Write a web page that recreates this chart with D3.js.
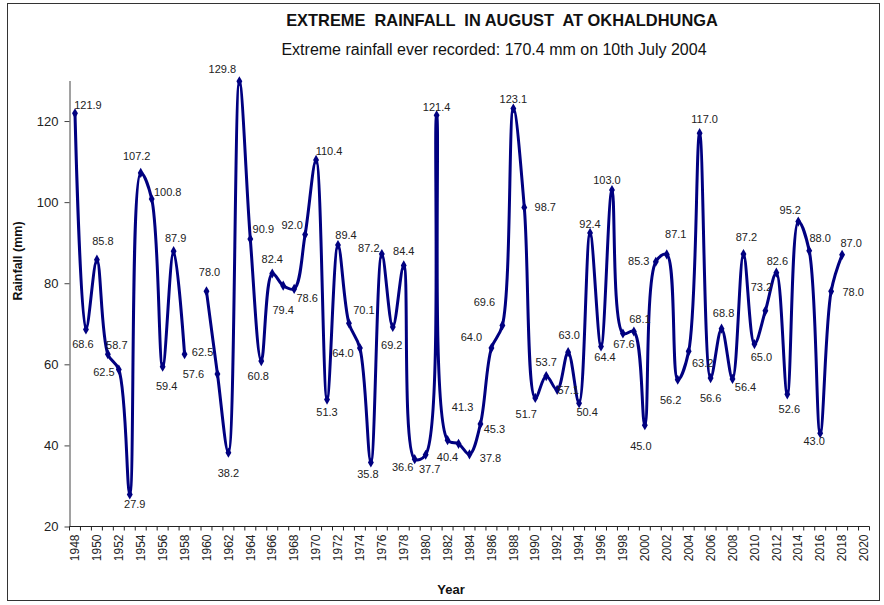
<!DOCTYPE html>
<html>
<head>
<meta charset="utf-8">
<script src="https://cdn.jsdelivr.net/npm/d3@7/dist/d3.min.js"></script>
<style>
  body { margin: 0; background: #fff; }
  svg { font-family: "Liberation Sans", Arial, sans-serif; }
</style>
</head>
<body>
<div id="chart"></div>
<script>
(function(){
    // categories (years) and August extreme rainfall, mm (1959 missing)
    const years = [1948, 1949, 1950, 1951, 1952, 1953, 1954, 1955, 1956, 1957,
        1958, 1959, 1960, 1961, 1962, 1963, 1964, 1965, 1966, 1967,
        1968, 1969, 1970, 1971, 1972, 1973, 1974, 1975, 1976, 1977,
        1978, 1979, 1980, 1981, 1982, 1983, 1984, 1985, 1986, 1987,
        1988, 1989, 1990, 1991, 1992, 1993, 1994, 1995, 1996, 1997,
        1998, 1999, 2000, 2001, 2002, 2003, 2004, 2005, 2006, 2007,
        2008, 2009, 2010, 2011, 2012, 2013, 2014, 2015, 2016, 2017, 2018];
    const rainfall = [121.9, 68.6, 85.8, 62.5, 58.7, 27.9, 107.2, 100.8, 59.4, 87.9,
        62.5, null, 78.0, 57.6, 38.2, 129.8, 90.9, 60.8, 82.4, 79.4,
        78.6, 92.0, 110.4, 51.3, 89.4, 70.1, 64.0, 35.8, 87.2, 69.2,
        84.4, 36.6, 37.7, 121.4, 41.3, 40.4, 37.8, 45.3, 64.0, 69.6,
        123.1, 98.7, 51.7, 57.1, 53.7, 63.0, 50.4, 92.4, 64.4, 103.0,
        67.6, 68.1, 45.0, 85.3, 87.1, 56.2, 63.2, 117.0, 56.6, 68.8,
        56.4, 87.2, 65.0, 73.2, 82.6, 52.6, 95.2, 88.0, 43.0, 78.0, 87.0];
    const yTicks = [20, 40, 60, 80, 100, 120];
    const xTickLabels = [1948, 1950, 1952, 1954, 1956, 1958, 1960, 1962, 1964, 1966,
        1968, 1970, 1972, 1974, 1976, 1978, 1980, 1982, 1984, 1986, 1988, 1990,
        1992, 1994, 1996, 1998, 2000, 2002, 2004, 2006, 2008, 2010, 2012, 2014,
        2016, 2018, 2020];

    // where each data label sits relative to its point (moved by hand in the original)
    const labelOffsets = [[13,-8],[-3,15],[6,-19],[-4,18],[-2,-24],[5,10],[-4,-17],[16,-7],[4,19],[2,-13],
        [18,-2],null,[3,-19],[-24,0],[0,20],[-17,-12],[13,-10],[-3,15],[0,-14],[0,24],
        [13,9],[-13,-9],[13,-9],[0,13],[8,-10],[15,-13],[-17,5],[-3,12],[-13,-6],[-1,18],
        [0,-14],[-12,8],[4,14],[0,-8],[15,-33],[-11,13],[21,4],[14,5],[-20,-11],[-18,-23],
        [0,-9],[21,0],[-9,16],[22,14],[-11,-28],[1,-17],[8,9],[0,-9],[4,11],[-5,-10],
        [1,11],[6,-12],[-4,21],[-17,-1],[9,-20],[-7,20],[14,12],[5,-14],[0,20],[2,-15],
        [13,8],[3,-17],[7,13],[-4,-24],[1,-12],[2,15],[-8,-11],[11,-13],[-6,8],[22,1],[9,-12]];

    const data = years.map((yr, i) => ({year: yr, value: rainfall[i], off: labelOffsets[i]}));

    const W = 884, H = 605;
    const plot = {left: 69.5, right: 869.5, top: 80.5, bottom: 526.5};
    const navy = "#000080";

    const svg = d3.select("#chart").append("svg")
        .attr("width", W)
        .attr("height", H);

    // outer chart frame
    svg.append("rect")
        .attr("x", 7.5).attr("y", 3.5)
        .attr("width", 872).attr("height", 597)
        .attr("fill", "none")
        .attr("stroke", "#333")
        .attr("stroke-width", 1);

    const x = d3.scaleLinear().domain([1947.5, 2020.5]).range([plot.left, plot.right]);
    const y = d3.scaleLinear().domain([20, 130]).range([plot.bottom, plot.top]);

    // y axis
    const yAxis = svg.append("g")
        .attr("transform", "translate(" + plot.left + ",0)")
        .call(d3.axisLeft(y).tickValues(yTicks).tickSize(5).tickSizeOuter(0).tickPadding(6));
    yAxis.select(".domain").attr("stroke", "#444");
    yAxis.selectAll(".tick line").attr("stroke", "#444");
    yAxis.selectAll(".tick text")
        .attr("font-size", 13)
        .attr("font-family", "Liberation Sans, Arial, sans-serif")
        .attr("fill", "#222");

    // x axis: tick marks between the years, labels on every other year
    const xg = svg.append("g").attr("transform", "translate(0," + plot.bottom + ")");
    xg.append("line")
        .attr("x1", plot.left).attr("x2", plot.right)
        .attr("stroke", "#222");
    xg.selectAll(".xtick")
        .data(d3.range(1947.5, 2021, 1))
        .enter().append("line")
        .attr("class", "xtick")
        .attr("x1", d => x(d)).attr("x2", d => x(d))
        .attr("y1", 0).attr("y2", 4)
        .attr("stroke", "#222");
    xg.selectAll(".xlab")
        .data(xTickLabels)
        .enter().append("text")
        .attr("class", "xlab")
        .attr("transform", d => "translate(" + x(d) + ",8) rotate(-90)")
        .attr("dy", "0.35em")
        .attr("text-anchor", "end")
        .attr("font-size", 12)
        .attr("fill", "#222")
        .text(d => d);

    // smoothed line with a break where the year is missing
    const line = d3.line()
        .defined(d => d.value != null)
        .x(d => x(d.year))
        .y(d => y(d.value))
        .curve(d3.curveCatmullRom.alpha(0.5));

    svg.append("path")
        .datum(data)
        .attr("d", line)
        .attr("fill", "none")
        .attr("stroke", navy)
        .attr("stroke-width", 3)
        .attr("stroke-linejoin", "round");

    const pts = data.filter(d => d.value != null);

    svg.selectAll(".marker")
        .data(pts)
        .enter().append("path")
        .attr("class", "marker")
        .attr("transform", d => "translate(" + x(d.year) + "," + y(d.value) + ")")
        .attr("d", d3.symbol().type(d3.symbolDiamond).size(30))
        .attr("fill", navy);

    svg.selectAll(".dlabel")
        .data(pts)
        .enter().append("text")
        .attr("class", "dlabel")
        .attr("x", d => x(d.year) + d.off[0])
        .attr("y", d => y(d.value) + d.off[1])
        .attr("dy", "0.35em")
        .attr("text-anchor", "middle")
        .attr("font-size", 11)
        .attr("fill", "#222")
        .text(d => d.value.toFixed(1));

    // titles
    svg.append("text")
        .attr("x", 502).attr("y", 26)
        .attr("text-anchor", "middle")
        .attr("font-size", 16.4)
        .attr("font-weight", "bold")
        .attr("fill", "#111")
        .attr("xml:space", "preserve")
        .style("white-space", "pre")
        .text("EXTREME  RAINFALL  IN AUGUST  AT OKHALDHUNGA");

    svg.append("text")
        .attr("x", 494).attr("y", 55)
        .attr("text-anchor", "middle")
        .attr("font-size", 16)
        .attr("fill", "#111")
        .text("Extreme rainfall ever recorded: 170.4 mm on 10th July 2004");

    svg.append("text")
        .attr("transform", "translate(22,261) rotate(-90)")
        .attr("text-anchor", "middle")
        .attr("font-size", 12.5)
        .attr("font-weight", "bold")
        .attr("fill", "#111")
        .text("Rainfall (mm)");

    svg.append("text")
        .attr("x", 451).attr("y", 594)
        .attr("text-anchor", "middle")
        .attr("font-size", 13)
        .attr("font-weight", "bold")
        .attr("fill", "#111")
        .text("Year");
})();
</script>
</body>
</html>
